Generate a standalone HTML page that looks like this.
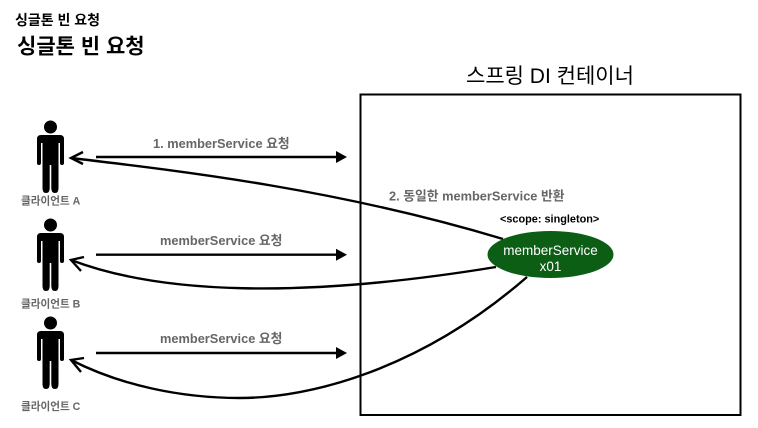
<!DOCTYPE html>
<html><head><meta charset="utf-8">
<style>
html,body{margin:0;padding:0;background:#fff;width:758px;height:428px;overflow:hidden}
svg{display:block;filter:blur(.35px)}
text{font-family:"Liberation Sans","Noto Sans CJK KR",sans-serif}
.g{fill:#666;font-weight:bold;font-size:12.8px}
.c{fill:#666;font-weight:bold;font-size:10.6px}
</style></head><body>
<svg width="758" height="428" viewBox="0 0 758 428" xmlns="http://www.w3.org/2000/svg">
<defs>
<g id="p" fill="#000">
<circle cx="50.5" cy="127" r="6.5"/>
<path d="M41 135H60Q64 135 64 139V163Q64 165 62 165Q60 165 60 163V143H58.500V188Q58.500 193 55 193Q51.300 193 51.300 188V165H49.700V188Q49.700 193 46 193Q42.500 193 42.500 188V143H41V163Q41 165 39 165Q37 165 37 163V139Q37 135 41 135Z"/>
</g>
</defs>
<text x="15" y="25" font-size="14" font-weight="bold">싱글톤 빈 요청</text>
<text x="17" y="53.500" font-size="21" font-weight="bold">싱글톤 빈 요청</text>
<text x="466" y="83" font-size="21">스프링 DI 컨테이너</text>
<rect x="360.500" y="94.500" width="380" height="320.500" fill="none" stroke="#000" stroke-width="2"/>
<use href="#p"/><use href="#p" y="98"/><use href="#p" y="196"/>
<text x="21" y="204.500" class="c">클라이언트 A</text>
<text x="21" y="307.500" class="c">클라이언트 B</text>
<text x="21" y="410" class="c">클라이언트 C</text>
<g stroke="#000" stroke-width="2.400" fill="none">
<path d="M96 157H338"/><path d="M96 254.700H338"/><path d="M96 353H338"/>
<path d="M71 158C190 172 340 190 503 239"/>
<path d="M71 260C160 294 300 299 496 267"/>
<path d="M71 360C120 385 180 398 240 398C310 398 420 370 527 277"/>
</g>
<g fill="#000">
<path d="M336 151L347 157L336 163Z"/><path d="M336 248.700L347 254.700L336 260.700Z"/><path d="M336 347L347 353L336 359Z"/>
</g>
<g fill="none" stroke="#000" stroke-width="2.400">
<path d="M83 152L71 158L83 164"/>
<path d="M84 257L71 260L81 271"/>
<path d="M84 358L71 360L81 372"/>
</g>
<text x="153" y="148" class="g">1. memberService 요청</text>
<text x="160" y="245" class="g">memberService 요청</text>
<text x="160" y="343" class="g">memberService 요청</text>
<text x="389" y="200.500" class="g">2. 동일한 memberService 반환</text>
<text x="500" y="222.500" font-size="10.900" font-weight="bold">&lt;scope: singleton&gt;</text>
<ellipse cx="550.500" cy="254.500" rx="63" ry="23.500" fill="#0b5e14"/>
<text x="550.500" y="255" font-size="13.500" fill="#fff" text-anchor="middle">memberService</text>
<text x="550.500" y="271" font-size="13.500" fill="#fff" text-anchor="middle">x01</text>
</svg>
</body></html>
